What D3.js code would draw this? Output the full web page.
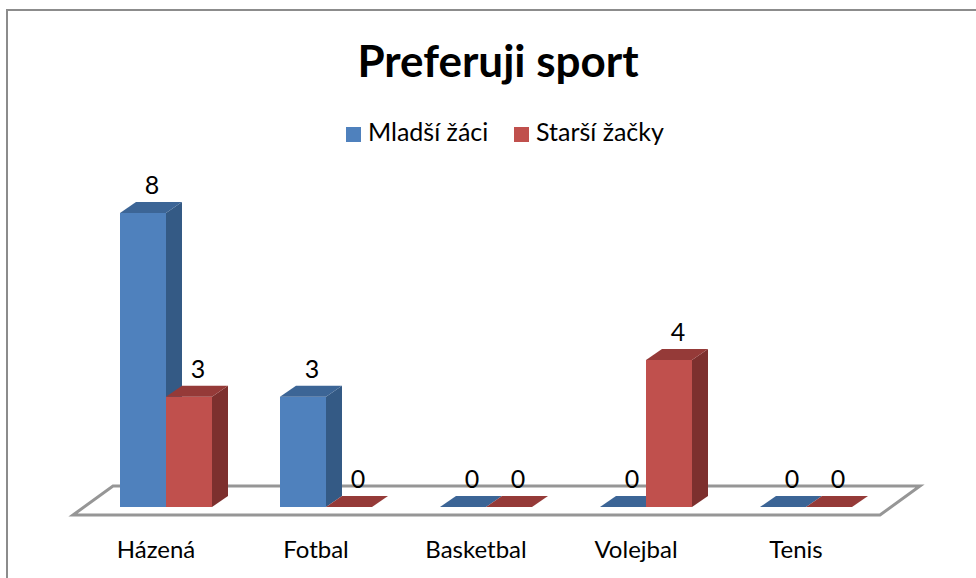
<!DOCTYPE html>
<html>
<head>
<meta charset="utf-8">
<script src="https://cdn.jsdelivr.net/npm/d3@7"></script>
<style>
  html, body { margin: 0; padding: 0; background: #fff; }
  svg { display: block; }
  text { font-family: Lato, "Open Sans", sans-serif; fill: #000; }
</style>
</head>
<body>
<svg id="chart" width="976" height="578"></svg>
<script>
// ---- data ----
const title = "Preferuji sport";
const categories = ["Házená", "Fotbal", "Basketbal", "Volejbal", "Tenis"];
const seriesNames = ["Mladší žáci", "Starší žačky"];
const mladsiZaci = [8, 3, 0, 0, 0];
const starsiZacky = [3, 0, 0, 4, 0];
const yDomain = [0, 8];

// ---- styles ----
const palette = {
  "Mladší žáci": { front: "#4F81BD", side: "#345A85", top: "#3C6596" },
  "Starší žačky": { front: "#C0504D", side: "#7D302E", top: "#953A38" }
};
const depthX = 16, depthY = 11;

const svg = d3.select("#chart");
const W = 976, H = 578;

// outer border (chart area frame, extends beyond the picture)
svg.append("rect")
  .attr("x", 7).attr("y", 10)
  .attr("width", W + 20).attr("height", H + 20)
  .attr("fill", "#fff").attr("stroke", "#8c8c8c").attr("stroke-width", 2);

// scales
const x0 = d3.scaleBand().domain(categories).range([86, 886])
  .paddingInner(0.425).paddingOuter(0.2125);
const x1 = d3.scaleBand().domain(seriesNames).range([0, x0.bandwidth()]);
const y = d3.scaleLinear().domain(yDomain).range([507, 213]);

// floor (3D plane)
const fl = x0.range();
const floorFront = y(0) + 8, floorBack = y(0) - 21;
svg.append("path")
  .attr("d", `M${fl[0] - 13},${floorFront} L${fl[0] + 27},${floorBack} L${fl[1] + 34},${floorBack} L${fl[1] - 6},${floorFront} Z`)
  .attr("fill", "#fff").attr("stroke", "#969696").attr("stroke-width", 3)
  .attr("stroke-linejoin", "miter");

// bars
const rows = categories.map((c, i) => ({
  cat: c,
  vals: [
    { s: seriesNames[0], v: mladsiZaci[i] },
    { s: seriesNames[1], v: starsiZacky[i] }
  ]
}));

const groups = svg.append("g").selectAll("g.cat")
  .data(rows).join("g").attr("class", "cat")
  .attr("transform", d => `translate(${x0(d.cat)},0)`);

const bars = groups.selectAll("g.bar").data(d => d.vals).join("g").attr("class", "bar");

bars.each(function (d) {
  const g = d3.select(this);
  const x = x1(d.s), w = x1.bandwidth();
  const yt = y(d.v), yb = y(0);
  const c = palette[d.s];
  // side
  g.append("path")
    .attr("d", `M${x + w},${yt} L${x + w + depthX},${yt - depthY} L${x + w + depthX},${yb - depthY} L${x + w},${yb} Z`)
    .attr("fill", c.side);
  // front
  if (yb - yt > 0) {
    g.append("rect").attr("x", x).attr("y", yt).attr("width", w).attr("height", yb - yt)
      .attr("fill", c.front);
  }
  // top
  g.append("path")
    .attr("d", `M${x},${yt} L${x + depthX},${yt - depthY} L${x + w + depthX},${yt - depthY} L${x + w},${yt} Z`)
    .attr("fill", c.top);
});

// value labels
groups.selectAll("text.val").data(d => d.vals).join("text").attr("class", "val")
  .attr("x", d => x1(d.s) + x1.bandwidth() / 2 + depthX / 2 + 1)
  .attr("y", d => y(d.v) - depthY - 8)
  .attr("text-anchor", "middle")
  .attr("font-size", 25)
  .text(d => d.v);

// category axis
const axis = d3.axisBottom(x0).tickSize(0).tickPadding(0);
const ax = svg.append("g").attr("transform", `translate(-10,558)`).call(axis);
ax.select(".domain").remove();
ax.selectAll("text")
  .attr("y", 0).attr("dy", 0)
  .attr("font-size", 24)
  .style("font-family", "Lato, 'Open Sans', sans-serif")
  .attr("fill", "#000");

// title
svg.append("text")
  .attr("x", 498).attr("y", 77)
  .attr("text-anchor", "middle")
  .attr("font-size", 44).attr("font-weight", "bold")
  .text(title);

// legend
const legendX = [346, 514];
const leg = svg.append("g").selectAll("g").data(seriesNames).join("g")
  .attr("transform", (d, i) => `translate(${legendX[i]},127)`);
leg.append("rect").attr("width", 15).attr("height", 15)
  .attr("fill", d => palette[d].front);
leg.append("text").attr("x", 22).attr("y", 14)
  .attr("font-size", 25).text(d => d);
</script>
</body>
</html>
